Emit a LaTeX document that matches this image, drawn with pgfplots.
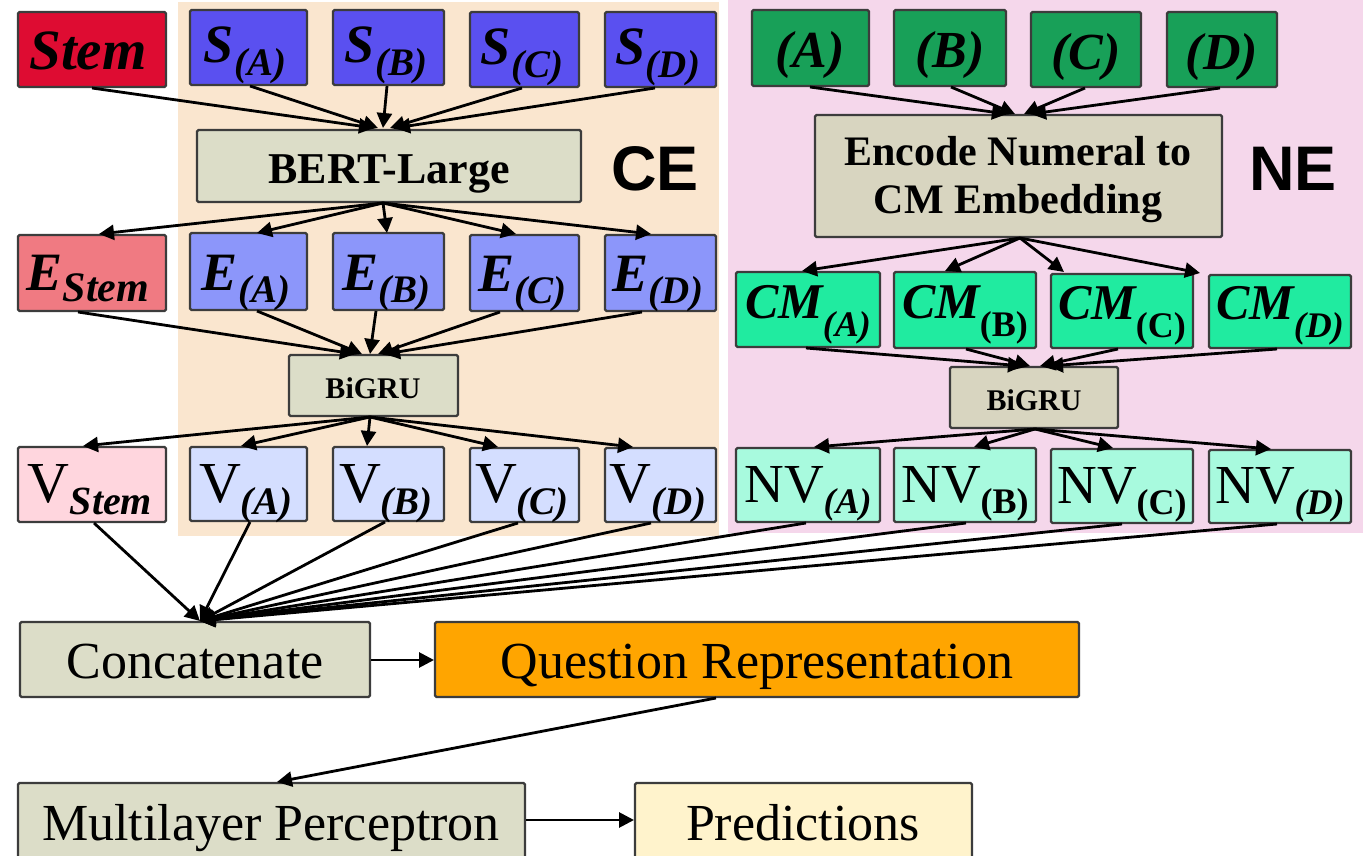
\documentclass[border=0pt]{standalone}
\usepackage{pgfplots}
\pgfplotsset{compat=1.18}
\usepackage{fontspec}
\setmainfont{Liberation Serif}
\newfontfamily\arialb{Liberation Sans}
\usetikzlibrary{arrows.meta}

\definecolor{cStem}{RGB}{222,12,50}
\definecolor{cS}{RGB}{90,80,240}
\definecolor{cEStem}{RGB}{240,122,130}
\definecolor{cE}{RGB}{140,150,250}
\definecolor{cVStem}{RGB}{255,214,222}
\definecolor{cV}{RGB}{212,222,255}
\definecolor{cGreen}{RGB}{24,160,88}
\definecolor{cCM}{RGB}{32,235,160}
\definecolor{cNV}{RGB}{168,250,222}
\definecolor{cGray}{RGB}{220,221,200}
\definecolor{cGray2}{RGB}{216,213,192}
\definecolor{cBeige}{RGB}{250,230,207}
\definecolor{cPink}{RGB}{245,215,235}
\definecolor{cOrange}{RGB}{255,165,0}
\definecolor{cPred}{RGB}{255,243,204}
\definecolor{cBorder}{RGB}{60,60,60}

\newcommand{\fs}[1]{\fontsize{#1}{#1}\selectfont}
\newcommand{\bi}{\bfseries\itshape}
\newcommand{\sub}[3]{\lower#1pt\hbox{\fs{#2}#3}}
\newcommand{\bx}[5]{\draw[fill=#5,draw=cBorder,line width=2.2pt,rounded corners=1.5pt] (#1,#2) rectangle (#3,#4);}
\newcommand{\tx}[3]{\node[anchor=base,inner sep=0pt] at (#1,#2) {#3};}

\tikzset{arr/.style={-{Triangle[length=15pt,width=15pt]},line width=2.8pt,black}}

\begin{document}
\begin{tikzpicture}
\begin{axis}[
  width=1363pt, height=856pt, scale only axis,
  xmin=0, xmax=1363, ymin=0, ymax=856, y dir=reverse,
  axis lines=none, ticks=none,
]
\fill[white] (0,0) rectangle (1363,856);
\coordinate (BL) at (0,856);
\coordinate (TR) at (1363,0);
% backgrounds
\fill[cBeige] (178,2) rectangle (719,536);
\fill[cPink] (728,0) rectangle (1363,533);

% ----- CE side -----
\bx{18}{12}{166}{87}{cStem}
\bx{190}{10}{307}{85}{cS}
\bx{333}{10}{444}{85}{cS}
\bx{470}{12}{579}{87}{cS}
\bx{605}{12}{716}{87}{cS}
\bx{197}{130}{581}{202}{cGray}
\bx{18}{235}{166}{311}{cEStem}
\bx{190}{233}{307}{310}{cE}
\bx{333}{233}{444}{310}{cE}
\bx{470}{235}{579}{311}{cE}
\bx{605}{235}{716}{311}{cE}
\bx{289}{355}{458}{416}{cGray}
\bx{18}{447}{166}{522}{cVStem}
\bx{190}{447}{307}{521}{cV}
\bx{333}{447}{444}{521}{cV}
\bx{470}{448}{579}{522}{cV}
\bx{605}{448}{716}{522}{cV}

% ----- NE side -----
\bx{752}{10}{869}{86}{cGreen}
\bx{894}{10}{1006}{86}{cGreen}
\bx{1031}{12}{1141}{87}{cGreen}
\bx{1167}{12}{1277}{87}{cGreen}
\bx{815}{115}{1222}{237}{cGray2}
\bx{736}{272}{880}{347}{cCM}
\bx{894}{272}{1036}{348}{cCM}
\bx{1051}{274}{1193}{348}{cCM}
\bx{1209}{275}{1351}{348}{cCM}
\bx{950}{367}{1118}{428}{cGray2}
\bx{736}{448}{880}{522}{cNV}
\bx{894}{448}{1036}{522}{cNV}
\bx{1051}{449}{1193}{523}{cNV}
\bx{1209}{450}{1351}{523}{cNV}

% ----- bottom -----
\bx{20}{622}{370}{697}{cGray}
\bx{435}{622}{1079}{697}{cOrange}
\bx{18}{783}{525}{862}{cGray}
\bx{635}{783}{972}{862}{cPred}

% ----- arrows CE -----
\draw[arr] (92,88) -- (374,128);
\draw[arr] (250,86) -- (378,128);
\draw[arr] (387,86) -- (383,128);
\draw[arr] (522,88) -- (390,128);
\draw[arr] (655,88) -- (395,128);
\draw[arr] (383,203) -- (99,234);
\draw[arr] (383,203) -- (257,233);
\draw[arr] (383,203) -- (387,233);
\draw[arr] (383,203) -- (516,234);
\draw[arr] (383,203) -- (651,234);
\draw[arr] (78,312) -- (355,354);
\draw[arr] (257,311) -- (362,354);
\draw[arr] (376,311) -- (370,354);
\draw[arr] (500,312) -- (378,354);
\draw[arr] (642,312) -- (385,354);
\draw[arr] (370,417) -- (83,446);
\draw[arr] (370,417) -- (241,446);
\draw[arr] (370,417) -- (367,446);
\draw[arr] (370,417) -- (498,447);
\draw[arr] (370,417) -- (633,447);

% ----- arrows NE -----
\draw[arr] (810,87) -- (1007,114);
\draw[arr] (951,87) -- (1015,114);
\draw[arr] (1085,88) -- (1024,114);
\draw[arr] (1220,88) -- (1031,114);
\draw[arr] (1020,238) -- (802,271);
\draw[arr] (1020,238) -- (945,271);
\draw[arr] (1020,238) -- (1064,272);
\draw[arr] (1020,238) -- (1200,273);
\draw[arr] (806,348) -- (1023,366);
\draw[arr] (966,349) -- (1030,366);
\draw[arr] (1118,349) -- (1040,366);
\draw[arr] (1277,349) -- (1048,366);
\draw[arr] (1035,429) -- (814,447);
\draw[arr] (1035,429) -- (974,447);
\draw[arr] (1035,429) -- (1113,448);
\draw[arr] (1035,429) -- (1271,449);

% ----- arrows to Concatenate -----
\draw[arr] (94,523) -- (200,621);
\draw[arr] (250,522) -- (200,621);
\draw[arr] (385,522) -- (200,621);
\draw[arr] (518,523) -- (200,621);
\draw[arr] (651,523) -- (200,621);
\draw[arr] (806,523) -- (200,621);
\draw[arr] (966,523) -- (200,621);
\draw[arr] (1122,524) -- (200,621);
\draw[arr] (1277,524) -- (200,621);
\draw[arr] (371,660) -- (434,660);
\draw[arr] (716,698) -- (277,782);
\draw[arr] (526,820) -- (634,820);

% ----- texts CE -----
\tx{88}{70}{\bi\fs{57}Stem}
\tx{245}{63}{\bi\fs{54}S\sub{13}{39}{(A)}}
\tx{386}{63}{\bi\fs{54}S\sub{13}{39}{(B)}}
\tx{522}{65}{\bi\fs{54}S\sub{13}{39}{(C)}}
\tx{658}{65}{\bi\fs{54}S\sub{13}{39}{(D)}}
\tx{389}{183}{\bfseries\fs{44}BERT-Large}
\tx{655}{190}{\arialb\bfseries\fs{63}CE}
\tx{88}{290}{\bi\fs{54}E\sub{11}{42}{Stem}}
\tx{246}{290}{\bi\fs{54}E\sub{12}{39}{(A)}}
\tx{386}{290}{\bi\fs{54}E\sub{12}{39}{(B)}}
\tx{522}{291}{\bi\fs{54}E\sub{12}{39}{(C)}}
\tx{658}{291}{\bi\fs{54}E\sub{12}{39}{(D)}}
\tx{373}{398}{\bfseries\fs{30}BiGRU}
\tx{90}{502}{\fs{58}V\sub{12}{40}{\bi Stem}}
\tx{246}{502}{\fs{58}V\sub{12}{39}{\bi (A)}}
\tx{386}{502}{\fs{58}V\sub{12}{39}{\bi (B)}}
\tx{522}{502}{\fs{58}V\sub{12}{39}{\bi (C)}}
\tx{658}{502}{\fs{58}V\sub{12}{39}{\bi (D)}}

% ----- texts NE -----
\tx{810}{68}{\bi\fs{52}(A)}
\tx{950}{68}{\bi\fs{52}(B)}
\tx{1086}{70}{\bi\fs{52}(C)}
\tx{1222}{70}{\bi\fs{52}(D)}
\tx{1018}{165}{\bfseries\fs{42}Encode Numeral to}
\tx{1018}{213}{\bfseries\fs{42}CM Embedding}
\tx{1293}{190}{\arialb\bfseries\fs{63}NE}
\tx{808}{318}{\bi\fs{50}CM\sub{18}{36}{(A)}}
\tx{965}{318}{\bi\fs{50}CM\sub{18}{36}{\upshape(B)}}
\tx{1122}{319}{\bi\fs{50}CM\sub{18}{36}{\upshape(C)}}
\tx{1280}{319}{\bi\fs{50}CM\sub{18}{36}{(D)}}
\tx{1034}{410}{\bfseries\fs{30}BiGRU}
\tx{808}{502}{\fs{55}NV\sub{11}{36}{\bi (A)}}
\tx{965}{502}{\fs{55}NV\sub{11}{36}{\bfseries (B)}}
\tx{1122}{503}{\fs{55}NV\sub{11}{36}{\bfseries (C)}}
\tx{1280}{503}{\fs{55}NV\sub{11}{36}{\bi (D)}}

% ----- texts bottom -----
\tx{195}{678}{\fs{52}Concatenate}
\tx{757}{678}{\fs{52}Question Representation}
\tx{271}{840}{\fs{52}Multilayer Perceptron}
\tx{803}{840}{\fs{52}Predictions}
\end{axis}
\pgfresetboundingbox
\useasboundingbox (BL) rectangle (TR);
\end{tikzpicture}
\end{document}
